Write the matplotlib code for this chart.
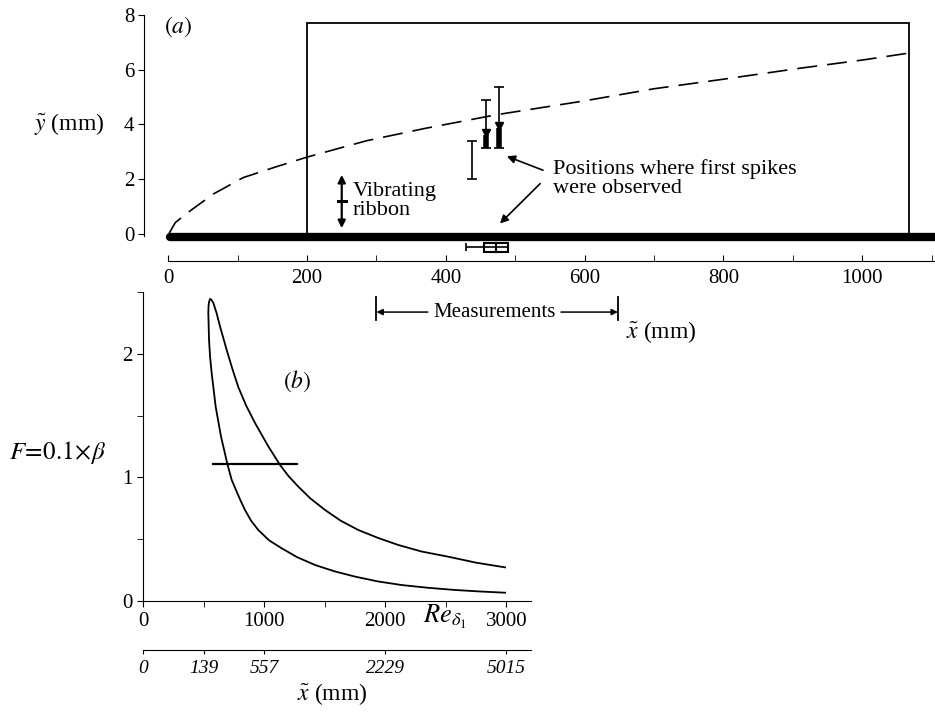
import matplotlib
matplotlib.use("Agg")
import matplotlib.pyplot as plt
from matplotlib.patches import Rectangle

plt.rcParams['font.family'] = ['Liberation Serif', 'DejaVu Serif']
plt.rcParams['mathtext.fontset'] = 'stix'
plt.rcParams['font.size'] = 15

# (a) boundary-layer edge (dashed), x and y in mm
edge_x = [1, 10, 27, 65, 108, 156, 200, 286, 370, 473, 598, 700, 800, 910, 1000, 1066]
edge_y = [0.0, 0.4, 0.75, 1.45, 2.05, 2.45, 2.8, 3.4, 3.85, 4.35, 4.85, 5.3, 5.65, 6.05, 6.35, 6.6]

# test section box and plate
box_x0, box_x1, box_top = 200, 1068, 7.7
plate_x = [3, 1105]
plate_y = [-0.12, -0.12]

# positions where first spikes were observed
spike_x = [438, 458, 476]
spike_lo = [2.0, 3.15, 3.15]
spike_hi = [3.4, 4.9, 5.35]
thick_x = [458, 476]
thick_top = [3.6, 3.86]
arrow_y = [3.68, 3.94]
hspike_y = -0.5
hspike_lo, hspike_mid, hspike_hi = 429, 455, 489

# vibrating ribbon
ribbon_x, ribbon_lo, ribbon_mid, ribbon_hi = 250, 0.2, 1.2, 2.15

# measurement range (mm)
meas_lo, meas_hi = 300, 648

# (b) neutral curve, Re_delta1 vs F
lower_re = [551, 543, 539, 537, 543, 552, 565, 598, 642, 694, 730, 760, 800, 840, 890, 950, 1040,
            1144, 1270, 1419, 1580, 1750, 1940, 2135, 2350, 2576, 2780, 2989]
lower_f = [2.44, 2.42, 2.39, 2.33, 2.11, 1.97, 1.84, 1.57, 1.33, 1.11, 0.98, 0.91, 0.82, 0.736, 0.65,
           0.574, 0.49, 0.426, 0.355, 0.291, 0.24, 0.197, 0.158, 0.129, 0.107, 0.089, 0.077, 0.067]
upper_re = [551, 560, 579, 605, 634, 689, 735, 785, 850, 923, 1033, 1130, 1200, 1281, 1380, 1502,
            1630, 1777, 1940, 2107, 2300, 2521, 2750, 2989]
upper_f = [2.44, 2.44, 2.41, 2.33, 2.22, 2.03, 1.88, 1.73, 1.58, 1.44, 1.25, 1.10, 1.01, 0.925, 0.83,
           0.736, 0.65, 0.574, 0.51, 0.453, 0.40, 0.358, 0.31, 0.272]
line_re = [579, 1268]
line_f = [1.106, 1.106]

mm_ticks = [0, 500, 1000, 2000, 3000]
mm_labels = ['0', '139', '557', '2229', '5015']

fig = plt.figure(figsize=(9.35, 7.13), dpi=100)

# ---------------- (a) ----------------
ax1 = fig.add_axes([0.154, 0.634, 0.846, 0.345])
ax1.patch.set_visible(False)
ax1.set_xlim(-35, 1105)
ax1.set_ylim(-1, 8)
for s in ['top', 'right']:
    ax1.spines[s].set_visible(False)
ax1.spines['left'].set_bounds(-0.1, 8)
ax1.spines['bottom'].set_bounds(0, 1105)
ax1.set_xticks([0, 200, 400, 600, 800, 1000])
ax1.set_xticks([100, 300, 500, 700, 900, 1100], minor=True)
ax1.set_yticks([0, 2, 4, 6, 8])
ax1.tick_params(axis='x', which='both', direction='in', length=4, pad=6)
ax1.tick_params(axis='y', direction='out', length=4, pad=3)

ax1.plot(edge_x, edge_y, color='k', lw=1.2, linestyle=(0, (12, 6)))
ax1.add_patch(Rectangle((box_x0, 0), box_x1 - box_x0, box_top, fill=False, lw=1.3, ec='k'))
ax1.plot(plate_x, plate_y, color='k', lw=6, solid_capstyle='round')

spike_mid = [(a + b) / 2 for a, b in zip(spike_lo, spike_hi)]
ax1.errorbar(spike_x, spike_mid,
             yerr=[[m - a for m, a in zip(spike_mid, spike_lo)],
                   [b - m for m, b in zip(spike_mid, spike_hi)]],
             fmt='none', ecolor='k', elinewidth=1.2, capsize=3.5, capthick=1.2)
ax1.vlines(thick_x, spike_lo[1:], thick_top, color='k', lw=4)
ax1.plot(thick_x, arrow_y, 'v', color='k', ms=5.5)

hw = (hspike_hi - hspike_lo) / 2
ax1.errorbar([hspike_lo + hw], [hspike_y], xerr=[[hw], [hw]],
             fmt='none', ecolor='k', elinewidth=1.2, capsize=3, capthick=1.2, clip_on=False)
ax1.add_patch(Rectangle((hspike_mid, hspike_y - 0.17), hspike_hi - hspike_mid, 0.34,
                        fill=False, lw=1.5, ec='k', clip_on=False))
ax1.plot([(hspike_mid + hspike_hi) / 2] * 2, [hspike_y - 0.17, hspike_y + 0.17], color='k', lw=1.5, clip_on=False)

# vibrating ribbon symbol
for end in [ribbon_hi, ribbon_lo]:
    ax1.annotate('', xy=(ribbon_x, end), xytext=(ribbon_x, ribbon_mid),
                 arrowprops=dict(arrowstyle='-|>', lw=1.6, color='k', mutation_scale=11, shrinkA=0, shrinkB=0))
ax1.plot([ribbon_x - 6, ribbon_x + 6], [ribbon_mid, ribbon_mid], color='k', lw=2.2)
ax1.text(266, 1.2, 'Vibrating\nribbon', ha='left', va='center', fontsize=16, linespacing=1.0)

ax1.text(554, 2.0, 'Positions where first spikes\nwere observed', ha='left', va='center', fontsize=16, linespacing=1.0)
ax1.annotate('', xy=(488, 2.83), xytext=(540, 2.32),
             arrowprops=dict(arrowstyle='-|>', lw=1.2, color='k', mutation_scale=12, shrinkA=0, shrinkB=0))
ax1.annotate('', xy=(478, 0.37), xytext=(536, 1.83),
             arrowprops=dict(arrowstyle='-|>', lw=1.2, color='k', mutation_scale=12, shrinkA=0, shrinkB=0))

ax1.text(14, 7.57, r'$(a)$', ha='center', va='center', fontsize=17)
ax1.text(-143, 4.0, r'$\tilde{y}$ (mm)', ha='center', va='center', fontsize=17, clip_on=False)

# measurement range bracket
my = -2.87
ax1.plot([meas_lo, meas_lo], [my + 0.55, my - 0.28], color='k', lw=1.3, clip_on=False)
ax1.plot([meas_hi, meas_hi], [my + 0.55, my - 0.28], color='k', lw=1.3, clip_on=False)
ax1.annotate('', xy=(meas_lo, my), xytext=(374, my), annotation_clip=False,
             arrowprops=dict(arrowstyle='-|>', lw=1.1, color='k', mutation_scale=9, shrinkA=0, shrinkB=0))
ax1.annotate('', xy=(meas_hi, my), xytext=(566, my), annotation_clip=False,
             arrowprops=dict(arrowstyle='-|>', lw=1.1, color='k', mutation_scale=9, shrinkA=0, shrinkB=0))
ax1.text((374 + 566) / 2, my, 'Measurements', ha='center', va='center', fontsize=15, clip_on=False)
ax1.text(711, -3.6, r'$\tilde{x}$ (mm)', ha='center', va='center', fontsize=17, clip_on=False)

# ---------------- (b) ----------------
ax2 = fig.add_axes([0.1533, 0.1571, 0.4147, 0.4334])
ax2.patch.set_visible(False)
ax2.set_xlim(0, 3204)
ax2.set_ylim(0, 2.5)
for s in ['top', 'right']:
    ax2.spines[s].set_visible(False)
ax2.set_xticks([0, 1000, 2000, 3000])
ax2.set_xticks([500, 1500, 2500], minor=True)
ax2.set_yticks([0, 1, 2])
ax2.set_yticks([0.5, 1.5, 2.5], minor=True)
ax2.tick_params(which='both', direction='out', length=4, pad=4)

ax2.plot(lower_re, lower_f, color='k', lw=1.3)
ax2.plot(upper_re, upper_f, color='k', lw=1.3)
ax2.plot(line_re, line_f, color='k', lw=1.6)

ax2.text(1268, 1.78, r'$(b)$', ha='center', va='center', fontsize=17)
ax2.text(2490, -0.13, r'$Re_{\delta_1}$', ha='center', va='center', fontsize=19, clip_on=False)
ax2.text(-713, 1.2, r'$F\!=\!0.1\!\times\!\beta$', ha='center', va='center', fontsize=18, clip_on=False)

sec = ax2.secondary_xaxis(-0.159)
sec.set_xticks(mm_ticks)
sec.set_xticklabels(mm_labels, fontstyle='italic', fontsize=14)
sec.tick_params(direction='out', length=3, pad=4)
ax2.text(1560, -0.75, r'$\tilde{x}$ (mm)', ha='center', va='center', fontsize=17, clip_on=False)

fig.savefig('out.png', dpi=100)
